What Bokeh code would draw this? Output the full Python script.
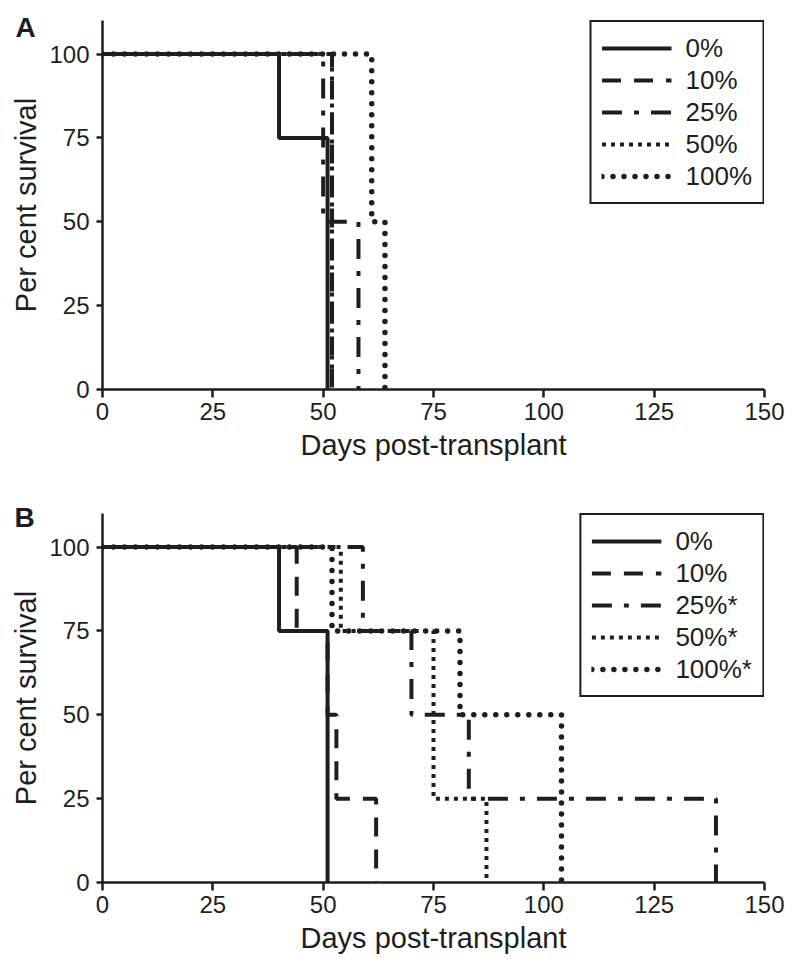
from bokeh.plotting import figure
from bokeh.models import Range1d, FixedTicker, Legend, LegendItem, Title
from bokeh.layouts import column
from bokeh.embed import file_html
from bokeh.resources import INLINE

# ---------------- data ----------------
x_ticks = [0, 25, 50, 75, 100, 125, 150]
y_ticks = [0, 25, 50, 75, 100]

# Panel A: step changes (day, per cent surviving after that day)
a_labels = ["0%", "10%", "25%", "50%", "100%"]
a_days_0 = [0, 40, 51]
a_surv_0 = [100, 75, 0]
a_days_10 = [0, 52]
a_surv_10 = [100, 0]
a_days_25 = [0, 50, 58]
a_surv_25 = [100, 50, 0]
a_days_50 = [0, 52]
a_surv_50 = [100, 0]
a_days_100 = [0, 61, 64]
a_surv_100 = [100, 50, 0]

# Panel B
b_labels = ["0%", "10%", "25%*", "50%*", "100%*"]
b_days_0 = [0, 40, 51]
b_surv_0 = [100, 75, 0]
b_days_10 = [0, 44, 51, 53, 62]
b_surv_10 = [100, 75, 50, 25, 0]
b_days_25 = [0, 59, 70, 83, 139]
b_surv_25 = [100, 75, 50, 25, 0]
b_days_50 = [0, 54, 75, 87]
b_surv_50 = [100, 75, 25, 0]
b_days_100 = [0, 52, 81, 104]
b_surv_100 = [100, 75, 50, 0]

INK = "#1e1e1e"
FONT = "Liberation Sans"

styles = [
    dict(line_dash="solid", line_width=4, line_cap="butt"),
    dict(line_dash="19 13", line_width=4, line_cap="butt"),
    dict(line_dash="20 12 5 12", line_width=4, line_cap="butt"),
    dict(line_dash="4 5", line_width=4, line_cap="butt"),
    dict(line_dash="0 11", line_width=5.5, line_cap="round"),
]


def make_panel(tag, series, labels, height, top, bottom, tag_standoff, tag_offset):
    p = figure(width=794, height=height,
               x_range=Range1d(0, 150), y_range=Range1d(0, 110),
               output_backend="svg", toolbar_location=None,
               min_border_left=102, min_border_right=30,
               min_border_top=top, min_border_bottom=bottom)
    p.grid.visible = False
    p.outline_line_color = None
    p.background_fill_color = "white"
    p.border_fill_color = "white"

    renderers = []
    for (days, surv), st in zip(series, styles):
        r = p.step(x=days, y=surv, mode="after", line_color=INK, **st)
        renderers.append(r)

    for ax in (p.xaxis[0], p.yaxis[0]):
        ax.axis_line_width = 2.5
        ax.axis_line_color = INK
        ax.major_tick_line_width = 2.5
        ax.major_tick_line_color = INK
        ax.major_tick_in = 0
        ax.minor_tick_in = 0
        ax.minor_tick_out = 0
        ax.major_label_text_font = FONT
        ax.major_label_text_font_size = "24px"
        ax.major_label_text_color = INK
        ax.axis_label_text_font = FONT
        ax.axis_label_text_font_size = "29px"
        ax.axis_label_text_font_style = "normal"
        ax.axis_label_text_color = INK

    p.xaxis[0].ticker = FixedTicker(ticks=x_ticks)
    p.yaxis[0].ticker = FixedTicker(ticks=y_ticks)
    p.xaxis[0].major_tick_out = 8
    p.yaxis[0].major_tick_out = 6
    p.xaxis[0].major_label_standoff = 5
    p.yaxis[0].major_label_standoff = 7
    p.xaxis[0].axis_label = "Days post-transplant"
    p.yaxis[0].axis_label = "Per cent survival"
    p.xaxis[0].axis_label_standoff = 6
    p.yaxis[0].axis_label_standoff = 4

    legend = Legend(
        items=[LegendItem(label=lab, renderers=[r]) for lab, r in zip(labels, renderers)],
        location="top_right", margin=0, padding=10, spacing=0,
        glyph_width=70, glyph_height=32, label_standoff=14,
        label_text_font=FONT, label_text_font_size="26px", label_text_color=INK,
        border_line_color=INK, border_line_width=2, border_line_alpha=1.0,
        background_fill_color="white", background_fill_alpha=1.0,
    )
    p.add_layout(legend)

    # panel letter, drawn as the plot title pulled down beside the frame top
    p.title = Title(text="\n" + tag, align="left", vertical_align="bottom",
                    offset=tag_offset, standoff=tag_standoff,
                    text_font=FONT, text_font_size="28px", text_font_style="bold",
                    text_color=INK, text_line_height=0.9)
    return p


series_a = [(a_days_0, a_surv_0), (a_days_10, a_surv_10), (a_days_25, a_surv_25),
            (a_days_50, a_surv_50), (a_days_100, a_surv_100)]
series_b = [(b_days_0, b_surv_0), (b_days_10, b_surv_10), (b_days_25, b_surv_25),
            (b_days_50, b_surv_50), (b_days_100, b_surv_100)]

pa = make_panel("A", series_a, a_labels, 488, 20, 99, -46, -87)
pb = make_panel("B", series_b, b_labels, 479, 25, 85, -40, -88)

layout = column(pa, pb, spacing=0)
open("out.html", "w").write(file_html(layout, INLINE))
